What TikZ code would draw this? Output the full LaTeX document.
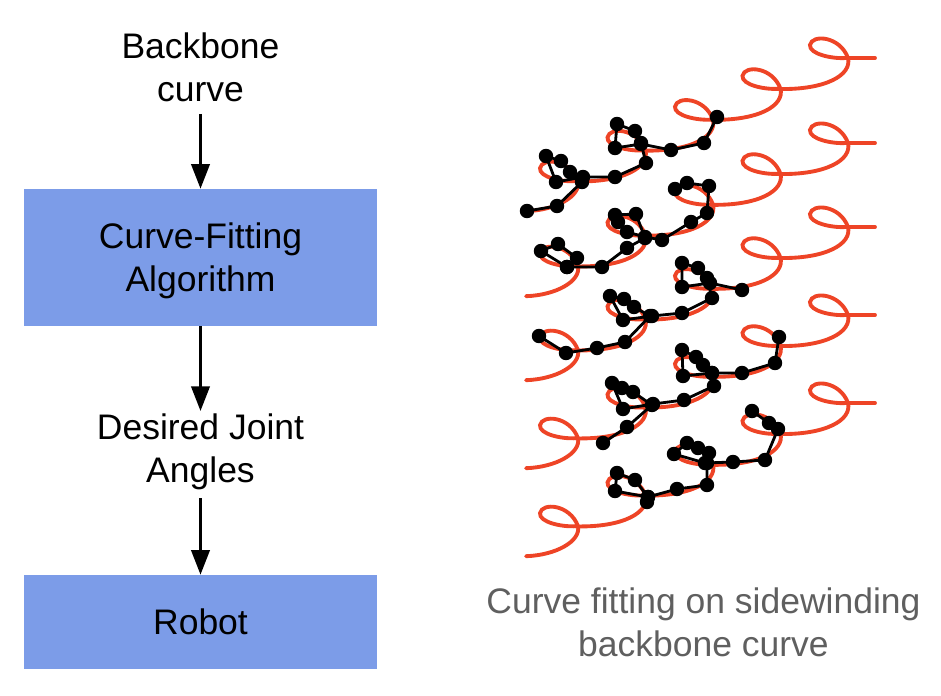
\documentclass[tikz,border=0pt]{standalone}
\usepackage{fontspec}
\setmainfont{Liberation Sans}
\usetikzlibrary{arrows.meta}
\definecolor{boxblue}{HTML}{7C9CE8}
\definecolor{curvered}{HTML}{EE4426}
\definecolor{captiongray}{HTML}{5F5F5F}
\tikzset{
    label text/.style={align=center,font=\fontsize{20.2}{24.4}\selectfont,inner sep=0pt},
    stage box/.style={label text,fill=boxblue,minimum width=7.06cm},
    flow/.style={draw=black,line width=1.5pt,-{Triangle[length=14pt,width=10.5pt]}},
    backbone/.style={curvered,line width=2.2pt,line cap=round},
    snake/.style={black,line width=1.6pt,mark=*,mark size=3.3pt,mark options={fill=black}},
    period/.pic={
        \draw[backbone](0,0).. controls (-14,1) and (-37,-4) ..(-36,-13)
            .. controls (-34,-24) and (-6,-22) ..(2,0)
            .. controls (6,17) and (-20,32) ..(-67.5,31);
    },
    tail end/.pic={
        \draw[backbone](0,0).. controls (-14,1) and (-37,-4) ..(-36,-13)
            .. controls (-34,-24) and (-6,-22) ..(2,0)
            .. controls (5,15) and (-20,29) ..(-50,30);
    }
}
\begin{document}
\begin{tikzpicture}[x=0.02cm,y=-0.02cm]
        \useasboundingbox (0,0) rectangle (941,696);
        % flow on the left
        \node[label text,minimum height=1.84cm](curve)at(200.5,67.5){Backbone\\curve};
        \node[stage box,minimum height=2.74cm](fitting)at(200.5,257.5){\rule{0pt}{18pt}Curve-Fitting\\Algorithm};
        \node[label text,minimum height=1.84cm](joints)at(200.5,452){Desired Joint\\Angles};
        \node[stage box,minimum height=1.88cm](robot)at(200.5,622){Robot};
        \draw[flow](curve)--(fitting);
        \draw[flow,shorten >=-3pt](fitting)--(joints);
        \draw[flow](joints)--(robot);
        % red rows
        \foreach \rowy in {58,143,227,315,403}{
            \begin{scope}[shift={(846,\rowy)}]
                \draw[backbone](29,0)--(0,0);
                \foreach \k in {0,1,2,3}
                    \pic at ({-67.5*\k},{30.8*\k}){period};
                \pic at (-270,123.2){tail end};
            \end{scope}
        }
        % fitted joints
        \draw[snake] plot coordinates {(717,117)(704,143)(671,150)(641,144)(615,148)(617,124)(635,131)(641,143)(646,163)(615,177)(583,177)(556,182)(546,156)(561,161)(570,172)(582,182)(557,206)(527,211)};
        \draw[snake] plot coordinates {(675,189)(687,183)(709,186)(707,213)(691,222)(662,240)(645,237)(627,232)(618,222)(615,215)(636,214)(645,238)(627,248)(602,267)(567,267)(541,251)(558,244)(577,258)(567,267)};
        \draw[snake] plot coordinates {(742,290)(710,283)(682,287)(682,263)(698,268)(707,278)(712,298)(682,313)(652,316)(623,320)(610,296)(624,299)(634,307)(650,316)(625,342)(597,348)(566,353)(539,336)};
        \draw[snake] plot coordinates {(779,337)(775,363)(742,373)(712,373)(683,376)(682,350)(696,357)(703,365)(712,373)(714,386)(684,400)(653,404)(623,409)(612,383)(622,388)(633,392)(652,405)(627,427)(603,443)};
        \draw[snake] plot coordinates {(752,411)(769,423)(778,429)(765,460)(733,462)(705,463)(674,454)(687,443)(698,448)(709,453)(707,463)(707,485)(677,489)(648,497)(615,491)(617,473)(635,480)(648,497)(647,502)};
        \node[label text,text=captiongray](caption)at(703.5,622){Curve fitting on sidewinding\\backbone curve};
    \end{tikzpicture}
\end{document}
